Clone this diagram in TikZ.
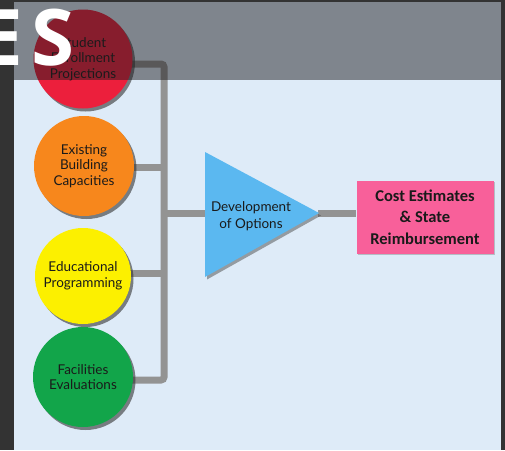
\documentclass[tikz,border=0pt]{standalone}
\usepackage{fontspec}
\setmainfont{Lato}
\newfontfamily\boxfont{Carlito}
\newfontfamily\esfont{Open Sans}
\usetikzlibrary{shadows}
\pgfdeclarelayer{background}
\pgfsetlayers{background,main}
\definecolor{panel}{HTML}{DEEBF8}
\definecolor{darkedge}{HTML}{333333}
\definecolor{conncol}{HTML}{939393}
\definecolor{cred}{HTML}{EC1F3C}
\definecolor{corange}{HTML}{F7871C}
\definecolor{cyellow}{HTML}{FCF000}
\definecolor{cgreen}{HTML}{12A54A}
\definecolor{cblue}{HTML}{5BB8F0}
\definecolor{cpink}{HTML}{F8609A}
\definecolor{bandcol}{HTML}{1E1C1E}
\definecolor{txt}{HTML}{1A1A1A}
\tikzset{
  x=1pt, y=-1pt,
  circ/.style={circle, minimum size=#1, inner sep=0pt, align=center,
    font=\fontsize{13.5}{15.5}\selectfont, text=txt,
    drop shadow={shadow xshift=2.5pt, shadow yshift=-3pt, opacity=0.6, fill=black!80}},
  conn/.style={draw=conncol, line width=7pt, rounded corners=3pt},
}
\begin{document}
\begin{tikzpicture}
\useasboundingbox (0,0) rectangle (505,450);

% circles
\node[circ=99pt, fill=cred] (red) at (83,59) {Student\\Enrollment\\Projections};
\node[circ=100pt, fill=corange] (orange) at (84,166) {Existing\\Building\\Capacities};
\node[circ=96pt, fill=cyellow] (yellow) at (83,276) {Educational\\Programming};
\node[circ=100pt, fill=cgreen] (green) at (83,377) {Facilities\\Evaluations};

% triangle
\fill[cblue, drop shadow={shadow xshift=2pt, shadow yshift=-2.5pt, opacity=0.5, fill=black!70}]
  (205,152) -- (319,213) -- (205,277) -- cycle;
\coordinate (trileft) at (205,213);
\coordinate (tritip) at (318,213);
\node[font=\fontsize{13.5}{16.5}\selectfont, text=txt, align=center] (dev) at (251,216) {Development\\of Options};

% box
\node[fill=cpink, minimum width=137pt, minimum height=73pt, align=center,
  font=\boxfont\bfseries\fontsize{16.5}{21.5}\selectfont, text=txt,
  drop shadow={shadow xshift=1.5pt, shadow yshift=-1.5pt, opacity=0.35, fill=black!60}]
  (cost) at (425,217) {Cost Estimates\\\& State\\Reimbursement};

% background and connectors
\coordinate (bus) at (164,213);
\begin{pgfonlayer}{background}
\fill[darkedge] (0,0) rectangle (505,450);
\fill[panel] (14,2) rectangle (501,450);
\draw[conn] (red.center |- 0,64) -- (bus |- 0,64) -- (bus |- 0,380) -- (green.center |- 0,380);
\draw[conn] (orange.center |- 0,167) -- (bus |- 0,167);
\draw[conn] (yellow.center |- 0,273) -- (bus |- 0,273);
\draw[conn] (bus) -- (trileft);
\draw[conn] (tritip) -- (cost.west |- tritip);
\end{pgfonlayer}

% top band overlay
\fill[bandcol, opacity=0.49] (14,2) rectangle (501,80);

% big title fragment
\node[anchor=base east, inner sep=0pt, text=white,
  font=\esfont\bfseries\fontsize{78}{78}\selectfont] (es) at (75,65) {E\kern9pt S};
\end{tikzpicture}
\end{document}
